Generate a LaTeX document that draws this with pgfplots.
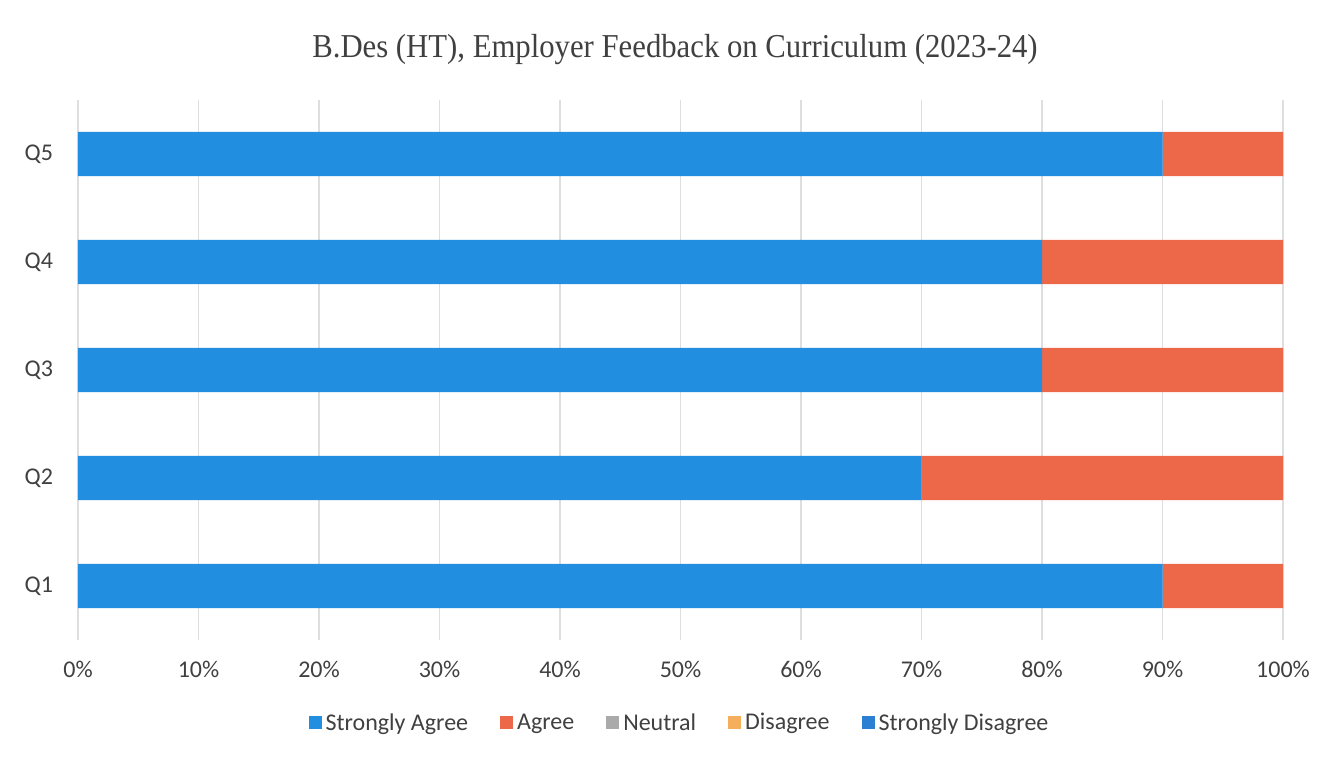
\documentclass[border=0pt]{standalone}
\usepackage{pgfplots}
\pgfplotsset{compat=1.18}
\usepackage{fontspec}
\setmainfont{Carlito}
\newfontfamily\titlefont[FakeStretch=0.92]{Liberation Serif}
\definecolor{sagree}{RGB}{33,142,224}
\definecolor{agree}{RGB}{236,104,72}
\definecolor{neutral}{RGB}{170,170,170}
\definecolor{disagree}{RGB}{244,174,92}
\definecolor{sdis}{RGB}{43,128,212}
\definecolor{gridc}{RGB}{222,222,222}
\definecolor{textc}{RGB}{64,64,64}
\begin{document}
\begin{tikzpicture}[x=1pt,y=1pt]
\useasboundingbox (0,0) rectangle (662.5,378);
\node[font=\titlefont\fontsize{16.7}{19}\selectfont, text=textc] at (337.5,353) {B.Des (HT), Employer Feedback on Curriculum (2023-24)};
\begin{axis}[
  at={(39pt,58pt)}, anchor=south west,
  scale only axis, width=602.5pt, height=270pt,
  xbar stacked,
  bar width=0.41,
  xmin=0, xmax=100, ymin=0.5, ymax=5.5,
  ytick={1,2,3,4,5},
  yticklabels={Q1,Q2,Q3,Q4,Q5},
  xtick={0,10,...,100},
  xticklabel={\pgfmathprintnumber{\tick}\%},
  /pgf/number format/assume math mode=true,
  axis line style={draw=none},
  major tick length=0pt,
  xmajorgrids, grid style={gridc, line width=0.6pt},
  ticklabel style={font=\fontsize{12}{14}\selectfont, text=textc},
  xticklabel style={yshift=-7pt},
  yticklabel style={xshift=-9pt},
  legend style={draw=none, at={(0.5,-0.154)}, anchor=center, legend columns=5,
    font=\fontsize{12}{14}\selectfont, text=textc,
    /tikz/every even column/.append style={column sep=14pt}},
  legend image code/.code={\fill[#1] (0pt,-3pt) rectangle (6.5pt,3.5pt);},
  clip=false,
]
\addplot[fill=sagree, draw=none] coordinates {(90,1) (70,2) (80,3) (80,4) (90,5)};
\addplot[fill=agree, draw=none] coordinates {(10,1) (30,2) (20,3) (20,4) (10,5)};
\addlegendentry{Strongly Agree}
\addlegendentry{Agree}
\addlegendimage{fill=neutral, draw=none}
\addlegendentry{Neutral}
\addlegendimage{fill=disagree, draw=none}
\addlegendentry{Disagree}
\addlegendimage{fill=sdis, draw=none}
\addlegendentry{Strongly Disagree}
\end{axis}
\end{tikzpicture}
\end{document}
